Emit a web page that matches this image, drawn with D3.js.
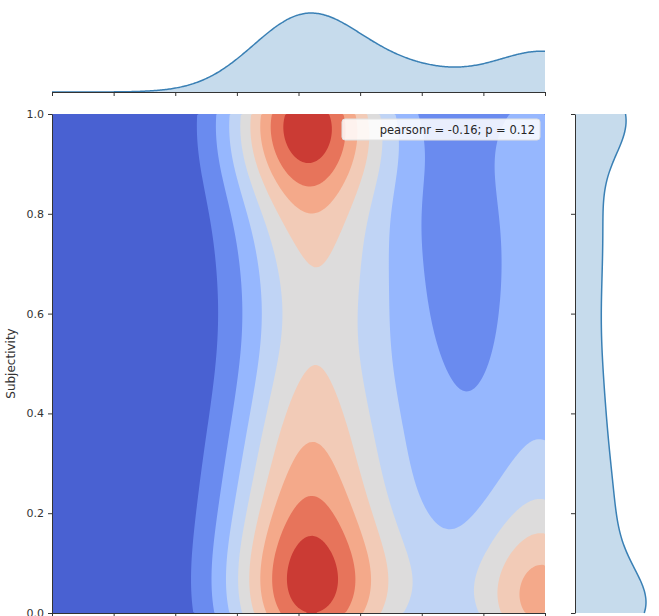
<!DOCTYPE html>
<html>
<head>
<meta charset="utf-8">
<script src="https://cdn.jsdelivr.net/npm/d3@7"></script>
<style>
  body { margin: 0; background: #fff; }
  text { font-family: "DejaVu Sans", sans-serif; }
</style>
</head>
<body>
<svg id="chart"></svg>
<script>
// sample points (polarity, subjectivity, count) the kde is built from
// rows: neutral column, middle column, polarity = 1 column
const polarity = [
  -0.05, 0.13, -0.05, 0.13, -0.05, 0.13, -0.05, 0.13, 0.04, 0.04, 0.03, 0.03, 0.03, 0.03, 0.025, 0.2,
  0.51, 0.51, 0.53, 0.52, 0.49, 0.46, 0.42, 0.39, 0.40, 0.44, 0.44,
  1.0, 1.0, 1.0, 1.0, 1.0, 1.0, 1.0, 1.0, 1.0, 1.0, 1.0
];
const subjectivity = [
  0.0, 0.0, 0.1, 0.1, 0.2, 0.2, 0.3, 0.3, 0.4, 0.5, 0.6, 0.7, 0.8, 0.9, 1.0, 0.65,
  0.0, 0.1, 0.2, 0.3, 0.4, 0.5, 0.6, 0.7, 0.8, 0.9, 1.0,
  0.0, 0.1, 0.2, 0.3, 0.4, 0.5, 0.6, 0.7, 0.8, 0.9, 1.0
];
const counts = [
  3.05, 3.05, 1.2, 1.2, 1.3, 1.3, 1.1, 1.1, 1.8, 1.5, 1.1, 1.3, 2.0, 0.6, 7.5, 0.35,
  1.5, 0.6, 0.5, 0.6, 0.65, 0.6, 0.5, 0.55, 0.45, 0.4, 0.7,
  5.0, 1.0, 1.4, 0.9, 0.8, 0.82, 0.82, 0.82, 0.82, 0.82, 1.5
];
const bwX = 0.211, bwY = 0.12;        // joint kde bandwidths
const bwMargX = 0.211, bwMargY = 0.08; // marginal kde bandwidths

const xTicks = [-1, -0.75, -0.5, -0.25, 0, 0.25, 0.5, 0.75, 1];
const yTicks = [0, 0.2, 0.4, 0.6, 0.8, 1.0];
const levels = [1, 2, 3, 4, 5, 6, 7, 8];
const bandColors = ["#4961d2", "#6a8bef", "#96b7fe", "#c0d4f5", "#dddcdc",
                    "#f2cbb7", "#f4a98a", "#e7745b", "#cb3b34"];
const statLabel = "pearsonr = -0.16; p = 0.12";
const yLabel = "Subjectivity";

const W = 659, H = 616;
const svg = d3.select("#chart").attr("width", W).attr("height", H);

const x = d3.scaleLinear([-1, 1], [52, 545]);
const y = d3.scaleLinear([0, 1], [613, 114]);

const kernel = (px, py) => {
  let s = 0;
  for (let i = 0; i < counts.length; i++) {
    const dx = (px - polarity[i]) / bwX, dy = (py - subjectivity[i]) / bwY;
    s += counts[i] * Math.exp(-0.5 * (dx * dx + dy * dy));
  }
  return s;
};

// density grid, values at cell centres
const nx = 247, ny = 250;
const grid = new Float64Array(nx * ny);
for (let j = 0; j < ny; j++) {
  const gy = 1 - (j + 0.5) / ny;
  for (let i = 0; i < nx; i++) {
    grid[j * nx + i] = kernel(-1 + (i + 0.5) * 2 / nx, gy);
  }
}
const contours = d3.contours().size([nx, ny]).thresholds(levels)(grid);
const proj = d3.geoTransform({
  point(gx, gy) { this.stream.point(x(-1 + gx * 2 / nx), y(1 - gy / ny)); }
});
const path = d3.geoPath(proj);

svg.append("clipPath").attr("id", "plotclip").append("rect")
  .attr("x", x(-1)).attr("y", y(1)).attr("width", x(1) - x(-1)).attr("height", y(0) - y(1));

const main = svg.append("g").attr("clip-path", "url(#plotclip)");
main.append("rect")
  .attr("x", x(-1)).attr("y", y(1)).attr("width", x(1) - x(-1)).attr("height", y(0) - y(1))
  .attr("fill", bandColors[0]);
main.selectAll("path").data(contours).join("path")
  .attr("d", path)
  .attr("fill", (d, i) => bandColors[i + 1]);

// axes of the joint plot
const styleAxis = g => {
  g.selectAll(".domain").attr("stroke", "#333");
  g.selectAll(".tick line").attr("stroke", "#333");
  g.selectAll(".tick text").attr("fill", "#333").style("font-size", "11px");
};
svg.append("g").attr("transform", `translate(${x(-1)},0)`)
  .call(d3.axisLeft(y).tickValues(yTicks).tickFormat(d3.format(".1f")).tickSize(4).tickPadding(4).tickSizeOuter(0))
  .call(styleAxis);
svg.append("g").attr("transform", `translate(0,${y(0)})`)
  .call(d3.axisBottom(x).tickValues(xTicks).tickFormat("").tickSize(4).tickSizeOuter(0))
  .call(styleAxis);

svg.append("text")
  .attr("transform", `translate(15,${(y(0) + y(1)) / 2}) rotate(-90)`)
  .attr("text-anchor", "middle").attr("fill", "#333").style("font-size", "12px")
  .text(yLabel);

// annotation box
svg.append("rect").attr("x", 342).attr("y", 119).attr("width", 198).attr("height", 21).attr("rx", 3)
  .attr("fill", "#fff").attr("fill-opacity", 0.85).attr("stroke", "#e0e0e0");
svg.append("text").attr("x", 535).attr("y", 134).attr("text-anchor", "end")
  .attr("fill", "#262626").style("font-size", "11.5px").text(statLabel);

// marginal densities
const kde1 = (vals, bw) => v => {
  let s = 0;
  for (let i = 0; i < counts.length; i++) { const d = (v - vals[i]) / bw; s += counts[i] * Math.exp(-0.5 * d * d); }
  return s;
};
const fx = kde1(polarity, bwMargX), fy = kde1(subjectivity, bwMargY);
const margX = d3.range(-1, 1.0001, 0.005).map(v => [v, fx(v)]);
const margY = d3.range(0, 1.0001, 0.0025).map(v => [v, fy(v)]);
const fillC = "#c6dbec", lineC = "#3a80b5";

const hx = d3.scaleLinear([0, d3.max(margX, d => d[1])], [92, 13]);
svg.append("path").datum(margX)
  .attr("d", d3.area().x(d => x(d[0])).y0(hx(0)).y1(d => hx(d[1])).curve(d3.curveBasis))
  .attr("fill", fillC);
svg.append("path").datum(margX)
  .attr("d", d3.line().x(d => x(d[0])).y(d => hx(d[1])).curve(d3.curveBasis))
  .attr("fill", "none").attr("stroke", lineC).attr("stroke-width", 1.5);
svg.append("g").attr("transform", `translate(0,${hx(0)})`)
  .call(d3.axisBottom(x).tickValues(xTicks).tickFormat("").tickSize(4).tickSizeOuter(0))
  .call(styleAxis);

const wy = d3.scaleLinear([0, d3.max(margY, d => d[1])], [575, 646]);
svg.append("path").datum(margY)
  .attr("d", d3.area().y(d => y(d[0])).x0(wy(0)).x1(d => wy(d[1])).curve(d3.curveBasis))
  .attr("fill", fillC);
svg.append("path").datum(margY)
  .attr("d", d3.line().y(d => y(d[0])).x(d => wy(d[1])).curve(d3.curveBasis))
  .attr("fill", "none").attr("stroke", lineC).attr("stroke-width", 1.5);
svg.append("g").attr("transform", `translate(${wy(0)},0)`)
  .call(d3.axisLeft(y).tickValues(yTicks).tickFormat("").tickSize(4).tickSizeOuter(0))
  .call(styleAxis);
</script>
</body>
</html>
